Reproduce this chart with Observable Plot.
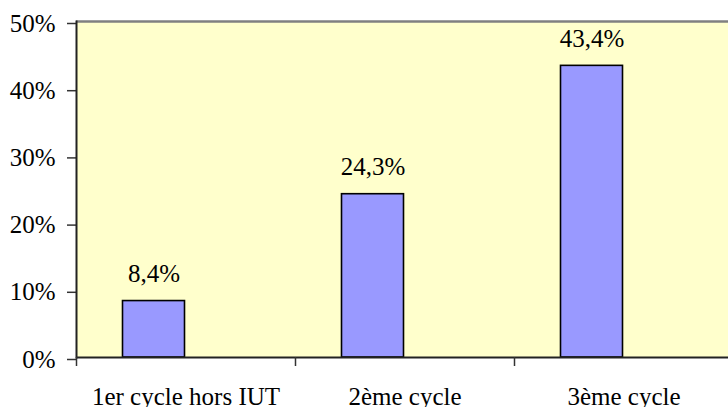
<!DOCTYPE html>
<html>
<head>
<meta charset="utf-8">
<script src="https://cdn.jsdelivr.net/npm/d3@7"></script>
<script src="https://cdn.jsdelivr.net/npm/@observablehq/plot@0.6"></script>
<style>
  html, body { margin: 0; padding: 0; background: #ffffff; overflow: hidden; }
  #chart svg, #chart svg text { font-family: "Liberation Serif", "DejaVu Serif", serif !important; }
</style>
</head>
<body>
<div id="chart"></div>
<script>
const categories = ["1er cycle hors IUT", "2ème cycle", "3ème cycle"];
const values = [8.4, 24.3, 43.4];
const valueLabels = ["8,4%", "24,3%", "43,4%"];
const yTicks = [0, 10, 20, 30, 40, 50];

const data = categories.map((c, i) => ({cat: c, val: values[i], label: valueLabels[i]}));

const W = 733, ML = 76, MR = 0;
const bw = (W - ML - MR) / categories.length;
const FF = "Liberation Serif";

const chart = Plot.plot({
  width: W,
  height: 407,
  marginLeft: ML,
  marginRight: MR,
  marginTop: 21,
  marginBottom: 50,
  style: {maxWidth: "none", background: "#ffffff", fontSize: "25px", color: "#000", fontFamily: FF},
  x: {type: "band", domain: categories, padding: 0, axis: null, label: null},
  y: {domain: [0, 50], axis: null, label: null},
  marks: [
    Plot.frame({fill: "#FFFFCC", stroke: null}),
    Plot.ruleY([50], {stroke: "#808080", strokeWidth: 2.5}),
    Plot.barY(data, {
      x: "cat", y: "val",
      fill: "#9999FF", stroke: "#000", strokeWidth: 1.6,
      insetLeft: 46.5, insetRight: bw - 108.5
    }),
    Plot.text(data, {
      x: "cat", y: "val", text: "label",
      dx: 77.5 - bw / 2, dy: -19,
      lineAnchor: "bottom", fontSize: 25, fontFamily: FF, fill: "#000"
    }),
    Plot.axisY({
      ticks: yTicks, tickFormat: d => d + "%", label: null,
      tickSize: 9, tickPadding: 12, dy: 2,
      fontSize: 25, fontFamily: FF, stroke: "#333", strokeWidth: 1.5, fill: "#000"
    }),
    Plot.frame({anchor: "left", stroke: "#222", strokeWidth: 2}),
    Plot.ruleY([0], {stroke: "#222", strokeWidth: 2}),
    Plot.axisX({
      ticks: categories, tickSize: 9, dx: -bw / 2, text: null, label: null,
      stroke: "#333", strokeWidth: 1.5
    }),
    Plot.axisX({
      ticks: categories, tickSize: 0, tickPadding: 29.5, label: null,
      fontSize: 25, fontFamily: FF, fill: "#000"
    })
  ]
});

document.getElementById("chart").appendChild(chart);
</script>
</body>
</html>
